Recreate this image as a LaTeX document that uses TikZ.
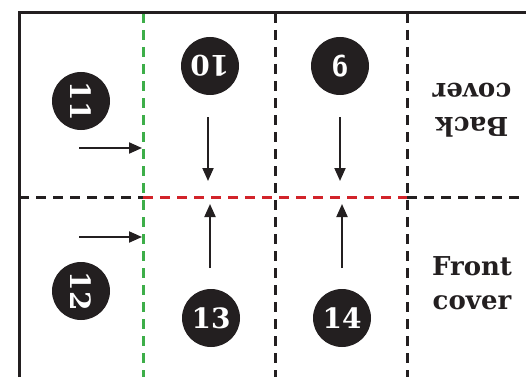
\documentclass[tikz,border=0pt]{standalone}
\usepackage{fontspec}
\newfontfamily\twfont{DejaVu Serif}
\usetikzlibrary{arrows.meta}
\definecolor{ink}{HTML}{231F20}
\definecolor{fgreen}{HTML}{3DAE49}
\definecolor{fred}{HTML}{D2232A}
\tikzset{
  frame/.style={ink, line width=3pt},
  fold/.style={line width=3pt, dash pattern=on 10pt off 7pt},
  pagenum/.style={circle, fill=ink, text=white, minimum size=58pt, inner sep=0pt, font=\twfont\bfseries\fontsize{28}{28}\selectfont},
  lbl/.style={align=center, ink, font=\twfont\bfseries\fontsize{26}{34}\selectfont},
  arr/.style={ink, line width=2pt, -{Triangle[length=13pt,width=11pt]}}
}
\begin{document}
\begin{tikzpicture}[x=1pt,y=-1pt]
\useasboundingbox (0,0) rectangle (526,377);
% coordinates
\coordinate (tl) at (19,13);
\coordinate (tr) at (526,13);
\coordinate (bl) at (19,377);
\coordinate (gt) at (143,13);
\coordinate (gb) at (143,377);
\coordinate (at) at (275,13);
\coordinate (ab) at (275,377);
\coordinate (bt) at (407,13);
\coordinate (bb) at (407,377);
\coordinate (hl) at (19,197);
\coordinate (hg) at (143,197);
\coordinate (hb) at (407,197);
\coordinate (hr) at (526,197);
% fold lines
\draw[fold, ink] (at) -- (ab);
\draw[fold, ink] (bt) -- (bb);
\draw[fold, ink] (hl) -- (hg);
\draw[fold, ink] (hb) -- (hr);
\draw[fold, fred] (hg) -- (hb);
\draw[fold, fgreen] (gt) -- (gb);
% frame
\draw[frame] (bl) -- (tl) -- (tr);
% page numbers
\node[pagenum, rotate=-90] (p11) at (81,101) {11};
\node[pagenum, rotate=180] (p10) at (210,66) {10};
\node[pagenum, font=\sffamily\bfseries\fontsize{30}{30}\selectfont] (p9) at (340,66) {6};
\node[pagenum, rotate=-90] (p12) at (81,291) {12};
\node[pagenum] (p13) at (211,318) {13};
\node[pagenum] (p14) at (342,318) {14};
% labels
\node[lbl, rotate=180] (back) at (472,110) {Back\\cover};
\node[lbl] (front) at (472,283) {Front\\cover};
% arrows
\coordinate (a1s) at (79,148); \coordinate (a1e) at (142,148);
\coordinate (a2s) at (79,237); \coordinate (a2e) at (142,237);
\coordinate (a3s) at (208,117); \coordinate (a3e) at (208,181);
\coordinate (a4s) at (340,117); \coordinate (a4e) at (340,181);
\coordinate (a5s) at (210,268); \coordinate (a5e) at (210,204);
\coordinate (a6s) at (342,268); \coordinate (a6e) at (342,204);
\draw[arr] (a1s) -- (a1e);
\draw[arr] (a2s) -- (a2e);
\draw[arr] (a3s) -- (a3e);
\draw[arr] (a4s) -- (a4e);
\draw[arr] (a5s) -- (a5e);
\draw[arr] (a6s) -- (a6e);
\end{tikzpicture}
\end{document}
